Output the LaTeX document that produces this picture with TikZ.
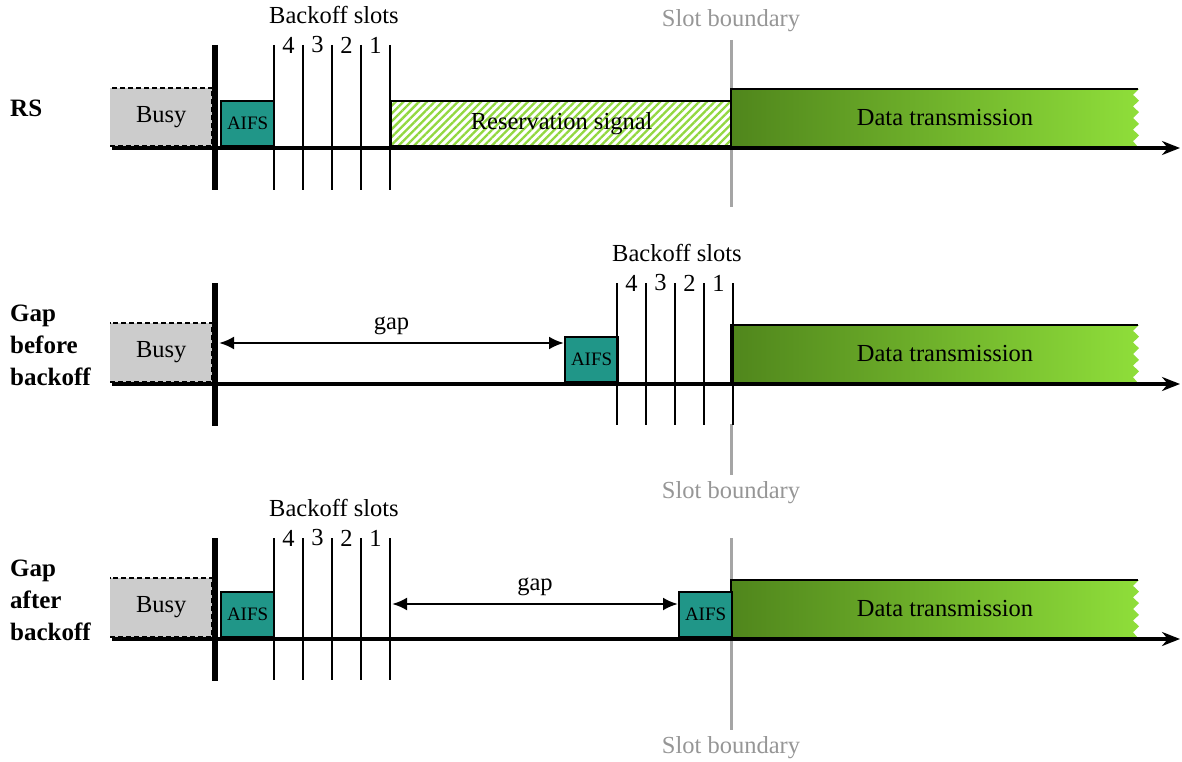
\documentclass[tikz,border=0pt]{standalone}
\usepackage{fontspec}
\setmainfont{Liberation Serif}
\usetikzlibrary{arrows.meta,patterns.meta}

\definecolor{busygray}{RGB}{204,204,204}
\definecolor{aifsteal}{RGB}{32,150,136}
\definecolor{datadark}{RGB}{80,134,28}
\definecolor{datalight}{RGB}{143,222,58}
\definecolor{hatchgreen}{RGB}{146,216,64}
\definecolor{slotgray}{RGB}{165,165,165}
\definecolor{labelgray}{RGB}{150,150,150}

\tikzset{
  txt/.style={font=\fontsize{24.5}{28}\selectfont},
  busybox/.style={txt, fill=busygray, inner sep=0pt, minimum width=102pt, anchor=south west},
  busyedge/.style={line width=2pt, dash pattern=on 5pt off 3pt},
  aifsbox/.style={draw, line width=2.2pt, fill=aifsteal, inner sep=0pt, minimum width=53pt,
    minimum height=45pt, anchor=south west, font=\fontsize{19}{22}\selectfont},
  rsbox/.style={txt, draw, line width=2.2pt, inner sep=0pt, anchor=south west,
    pattern={Lines[angle=45,distance=5.5pt,line width=2.3pt]}, pattern color=hatchgreen},
  timeline/.style={line width=3.2pt, -{Stealth[length=18pt,width=14pt]}},
  busybar/.style={line width=6.5pt},
  slotline/.style={line width=2.8pt},
  boundary/.style={line width=3pt, slotgray},
  gaparrow/.style={line width=2.6pt, {Latex[length=15pt,width=13pt]}-{Latex[length=15pt,width=13pt]}},
  rowlabel/.style={font=\bfseries\fontsize{25}{32}\selectfont, align=left, anchor=west, inner sep=0pt},
  graylabel/.style={txt, labelgray},
}

% data block with a torn right edge: name, top y, bottom y
\newcommand{\datablock}[3]{%
  \shade[left color=datadark, right color=datalight] (731,#2) -- (1139,#2)
    \foreach \k in {1,...,9}{ -- ({ifthenelse(isodd(\k),1133,1139)},{#2+\k*(#3-#2)/10}) }
    -- (1138,#3) -- (731,#3) -- cycle;
  \draw[line width=2.2pt] (731,#3) -- (731,#2) -- (1138,#2);
  \node[txt] (#1) at (945,{(#2+#3)/2}) {Data transmission};}

% four backoff slots starting at x, lines from top y to bottom y
\newcommand{\backoffslots}[4]{%
  \foreach \i/\n in {0/4,1/3,2/2,3/1}{
    \draw[slotline] ({#1+\i*29},#2) -- ({#1+\i*29},#3);
    \node[txt] (#4\n) at ({#1+\i*29+14.5},{#2}) {\n};
  }
  \draw[slotline] ({#1+116},#2) -- ({#1+116},#3);
  \node[txt] (#4lbl) at ({#1+60},{#2-30}) {Backoff slots};}

\begin{document}
\begin{tikzpicture}[x=1pt,y=-1pt]
\useasboundingbox (0,0) rectangle (1182,762);

% ---- RS ----
\node[rowlabel] (rslbl) at (10,108) {RS};
\node[busybox, minimum height=58pt] (busya) at (110,146) {Busy};
\draw[busyedge] (busya.south west) -- (busya.south east) -- (busya.north east) -- (busya.north west);
\draw[boundary] (731,40) -- (731,207);
\node[graylabel] (bounda) at (731,21) {Slot boundary};
\node[rsbox, minimum width=341pt, minimum height=45pt] (rsig) at (390,147) {Reservation signal};
\datablock{dataa}{89}{147}
\draw[timeline] (112,148) -- (1180,148);
\draw[busybar] (215,45) -- (215,190);
\node[aifsbox] (aifsa) at (220,147) {AIFS};
\backoffslots{274}{45}{190}{slota}

% ---- Gap before backoff ----
\node[rowlabel] (gblbl) at (10,345) {Gap\\before\\backoff};
\node[busybox, minimum height=59pt] (busyb) at (110,382) {Busy};
\draw[busyedge] (busyb.south west) -- (busyb.south east) -- (busyb.north east) -- (busyb.north west);
\draw[boundary] (731,424) -- (731,475);
\node[graylabel] (boundb) at (731,493) {Slot boundary};
\datablock{datab}{325}{383}
\draw[timeline] (112,384) -- (1180,384);
\draw[busybar] (215,283) -- (215,426);
\node[aifsbox] (aifsb) at (564,383) {AIFS};
\backoffslots{617}{283}{425}{slotb}
\coordinate (gapbstart) at (219,343);
\draw[gaparrow] (gapbstart) -- (gapbstart -| aifsb.west) node[midway, above=4pt, txt] (gapb) {gap};

% ---- Gap after backoff ----
\node[rowlabel] (galbl) at (10,600) {Gap\\after\\backoff};
\node[busybox, minimum height=59pt] (busyc) at (110,637) {Busy};
\draw[busyedge] (busyc.south west) -- (busyc.south east) -- (busyc.north east) -- (busyc.north west);
\draw[boundary] (731,538) -- (731,730);
\node[graylabel] (boundc) at (731,748) {Slot boundary};
\datablock{datac}{580}{638}
\draw[timeline] (112,639) -- (1180,639);
\draw[busybar] (215,538) -- (215,681);
\node[aifsbox] (aifsc) at (220,638) {AIFS};
\backoffslots{274}{538}{680}{slotc}
\node[aifsbox] (aifsd) at (678,638) {AIFS};
\coordinate (gapcstart) at (392,604);
\draw[gaparrow] (gapcstart) -- (gapcstart -| aifsd.west) node[midway, above=4pt, txt] (gapc) {gap};
\end{tikzpicture}
\end{document}
